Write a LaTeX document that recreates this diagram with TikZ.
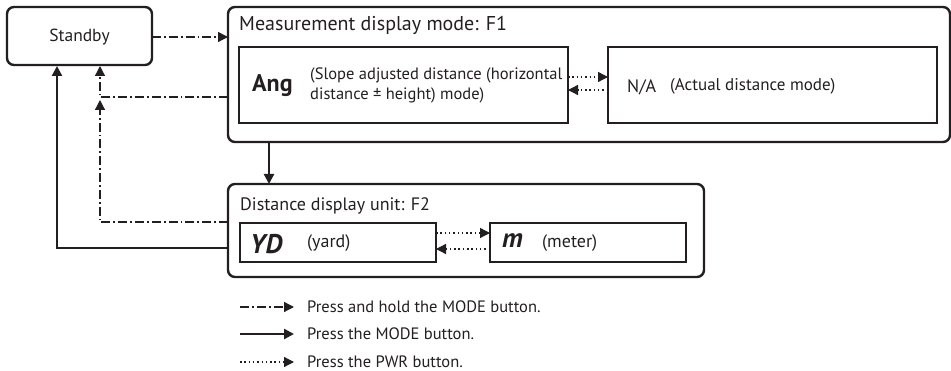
\documentclass[tikz,border=0pt]{standalone}
\usepackage{fontspec}
\setmainfont{PT Sans}
\usetikzlibrary{arrows.meta}
\definecolor{ink}{HTML}{231F20}
\tikzset{
  outerbox/.style={draw=ink, line width=2.4pt, rounded corners=7pt},
  innerbox/.style={draw=ink, line width=1.5pt},
  tip/.style={-{Triangle[length=10pt,width=10pt]}},
  holdline/.style={ink, line width=1.3pt, dash pattern=on 9pt off 3pt on 1.8pt off 3pt, tip},
  modeline/.style={ink, line width=2.2pt, tip},
  pwrline/.style={ink, line width=1.3pt, dash pattern=on 1.5pt off 2.8pt, tip},
  lbl/.style={text=ink, inner sep=0pt, anchor=west},
  txt/.style={lbl, font=\fontsize{16.5}{20}\selectfont},
  unittxt/.style={lbl, font=\fontsize{18}{20}\selectfont},
  bigbi/.style={lbl, font=\bfseries\itshape\fontsize{27}{28}\selectfont},
}
\begin{document}
\begin{tikzpicture}[x=1pt,y=-1pt]
\useasboundingbox (0,0) rectangle (951,371);
% boxes
\path[outerbox] (7,7) rectangle (152,65);
\node[lbl, anchor=center, font=\fontsize{17.5}{20}\selectfont] (standby) at (79.5,37) {Standby};
\path[outerbox] (228,7) rectangle (950,142);
\node[lbl, font=\fontsize{20}{22}\selectfont] (f1title) at (239,25) {Measurement display mode: F1};
\path[innerbox] (239,47) rectangle (568,123);
\path[innerbox] (608,47) rectangle (937,123);
\node[lbl, font=\bfseries\fontsize{24}{26}\selectfont] (ang) at (252,86) {Ang};
\node[lbl, align=left, font=\fontsize{16.5}{20}\selectfont] (angtxt) at (310,85) {(Slope adjusted distance (horizontal\\distance ± height) mode)};
\node[lbl, font=\fontsize{18}{20}\selectfont] (na) at (627,87) {N/A};
\node[lbl, font=\fontsize{17}{20}\selectfont] (natxt) at (670,86) {(Actual distance mode)};
\path[outerbox] (228,184) rectangle (704,277);
\node[lbl, font=\fontsize{18}{20}\selectfont] (f2title) at (240,206) {Distance display unit: F2};
\path[innerbox] (240,223) rectangle (436,262);
\path[innerbox] (490,223) rectangle (686,262);
\node[bigbi] (yd) at (250,244) {YD};
\node[unittxt] (ydtxt) at (307,243) {(yard)};
\node[bigbi] (m) at (502,241) {m};
\node[unittxt] (mtxt) at (542,243) {(meter)};
% named points
\coordinate (sbE) at (152,37);
\coordinate (f1W) at (228,37);
\coordinate (f1Wb) at (228,97);
\coordinate (hold1) at (100,97);
\coordinate (sbS1) at (100,66);
\coordinate (f2Wa) at (228,222);
\coordinate (hold2) at (100,222);
\coordinate (hold2end) at (100,100);
\coordinate (f2Wb) at (228,248);
\coordinate (mode1) at (57,248);
\coordinate (sbS2) at (57,66);
\coordinate (f1S) at (269,142);
\coordinate (f2N) at (269,184);
% connectors
\draw[holdline] (sbE) -- (f1W);
\draw[holdline] (f1Wb) -- (hold1) -- (sbS1);
\draw[holdline] (f2Wa) -- (hold2) -- (hold2end);
\draw[modeline] (f2Wb) -- (mode1) -- (sbS2);
\draw[modeline] (f1S) -- (f2N);
\draw[pwrline] (568,77) -- (608,77);
\draw[pwrline] (608,90) -- (568,90);
\draw[pwrline] (436,233) -- (490,233);
\draw[pwrline] (490,249) -- (436,249);
% legend
\draw[holdline] (240,307) -- (294,307);
\draw[modeline] (240,334) -- (294,334);
\draw[pwrline] (240,362) -- (294,362);
\node[txt] (lg1) at (307,307) {Press and hold the MODE button.};
\node[txt] (lg2) at (307,334) {Press the MODE button.};
\node[txt] (lg3) at (307,362) {Press the PWR button.};
\end{tikzpicture}
\end{document}
